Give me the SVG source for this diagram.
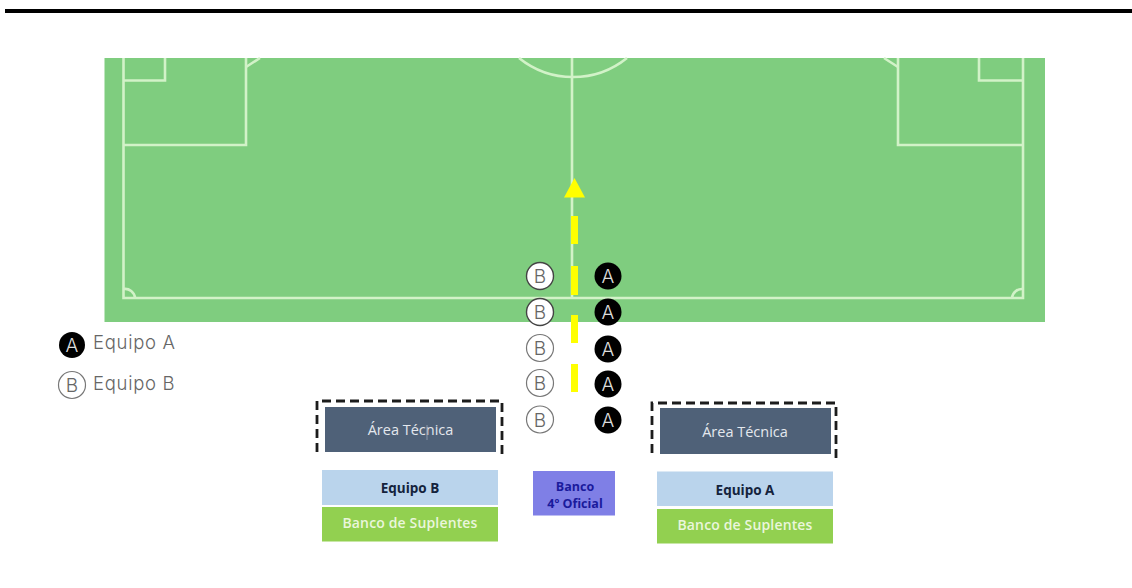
<svg xmlns="http://www.w3.org/2000/svg" width="1132" height="588" viewBox="0 0 1132 588">
<style>
.ln{fill:none;stroke:#d2f2c8;stroke-width:2.6}
.a{fill:#000}
.b{fill:#fff;stroke:#444;stroke-width:1.4}
.b2{fill:#fff;stroke:#777;stroke-width:1.2}
.la{font:300 19px "Inter","Liberation Sans",sans-serif;text-anchor:middle;fill:#ddd}
.lb{font:300 19px "Inter","Liberation Sans",sans-serif;text-anchor:middle;fill:#666}
.leg{font:300 18.500px "Inter","Liberation Sans",sans-serif;fill:#666;letter-spacing:.7px}
.at{fill:#4f6178}
.eq{fill:#bad4ec}
.bs{fill:#92d050}
.dash{fill:none;stroke:#1c1c1c;stroke-width:2.8;stroke-dasharray:9 5}
.t1{font:14.500px "Open Sans","Liberation Sans",sans-serif;text-anchor:middle;fill:#e4e8ee}
.t2{font:bold 13.500px "Open Sans","Liberation Sans",sans-serif;text-anchor:middle;fill:#14233c}
.t3{font:600 14px "Open Sans","Liberation Sans",sans-serif;text-anchor:middle;fill:#eaf6dc;letter-spacing:.15px}
.t4{font:bold 12.500px "Open Sans","Liberation Sans",sans-serif;text-anchor:middle;fill:#1a1a9c}
</style>
<rect width="1132" height="588" fill="#fff"/>
<rect id="top-rule" x="5" y="9" width="1127" height="4" fill="#000"/>
<g id="pitch">
<rect x="104.500" y="58" width="940.500" height="264" fill="#7fcd7f"/>
<path class="ln" d="M123.500 58V298H1023V58"/>
<path class="ln" d="M123.500 145H246V58M1023 145H898V58"/>
<path class="ln" d="M123.500 80.500H165V58M1023 80.500H979V58"/>
<path class="ln" d="M246 67L260 58M898 67L884 58"/>
<path class="ln" d="M572 58V297"/>
<path class="ln" d="M519 58A86 86 0 0 0 627 58"/>
<path class="ln" d="M123.500 289A10 10 0 0 1 135 298M1023 289A10 10 0 0 0 1012 298"/>
</g>
<g id="connectors">
<path d="M574.500 244V216M574.500 295V266M574.500 343V315M574.500 392V364" stroke="#ffff00" stroke-width="7" fill="none"/>
<polygon points="574.500,178 585,197.500 564,197.500" fill="#ffff00"/>
</g>
<g id="players-b">
<circle class="b" cx="540" cy="276" r="13.500"/><text class="lb" x="540" y="283">B</text>
<circle class="b" cx="540" cy="312" r="13.500"/><text class="lb" x="540" y="319">B</text>
<circle class="b2" cx="540" cy="348" r="13.500"/><text class="lb" x="540" y="355">B</text>
<circle class="b2" cx="540" cy="383" r="13.500"/><text class="lb" x="540" y="390">B</text>
<circle class="b2" cx="540" cy="419.500" r="13.500"/><text class="lb" x="540" y="426.500">B</text>
</g>
<g id="players-a">
<circle class="a" cx="608" cy="276" r="13.500"/><text class="la" x="608" y="283">A</text>
<circle class="a" cx="608" cy="312" r="13.500"/><text class="la" x="608" y="319">A</text>
<circle class="a" cx="608" cy="349" r="13.500"/><text class="la" x="608" y="356">A</text>
<circle class="a" cx="608" cy="384" r="13.500"/><text class="la" x="608" y="391">A</text>
<circle class="a" cx="608" cy="420" r="13.500"/><text class="la" x="608" y="427">A</text>
</g>
<g id="legend">
<circle class="a" cx="72" cy="345" r="13"/><text class="la" x="72" y="352">A</text>
<text class="leg" x="93" y="349">Equipo A</text>
<circle class="b2" cx="72" cy="385" r="13.500"/><text class="lb" x="72" y="392">B</text>
<text class="leg" x="93" y="390">Equipo B</text>
</g>
<g id="area-b">
<path class="dash" d="M317 452V401H502V459"/>
<rect class="at" x="325" y="407" width="171" height="45"/>
<text class="t1" x="410.500" y="435">Área Técnica</text>
<path d="M427 425V440" stroke="#8a97a8" stroke-width="1"/>
</g>
<g id="equipo-b">
<rect class="eq" x="322" y="470" width="176" height="35"/>
<text class="t2" x="410" y="493">Equipo B</text>
</g>
<g id="banco-b">
<rect class="bs" x="322" y="507" width="176" height="34.500"/>
<text class="t3" x="410" y="528">Banco de Suplentes</text>
</g>
<g id="cuarto">
<rect x="533" y="471" width="82" height="44.500" fill="#7f7fe6"/>
<text class="t4" x="575" y="491">Banco</text>
<text class="t4" x="575" y="508">4º Oficial</text>
</g>
<g id="area-a">
<path class="dash" d="M652 453V403H836V461"/>
<rect class="at" x="660" y="408" width="171" height="46"/>
<text class="t1" x="745" y="437">Área Técnica</text>
</g>
<g id="equipo-a">
<rect class="eq" x="657" y="471.500" width="176" height="34.500"/>
<text class="t2" x="745" y="495">Equipo A</text>
</g>
<g id="banco-a">
<rect class="bs" x="657" y="509" width="176" height="34.500"/>
<text class="t3" x="745" y="530">Banco de Suplentes</text>
</g>
</svg>
